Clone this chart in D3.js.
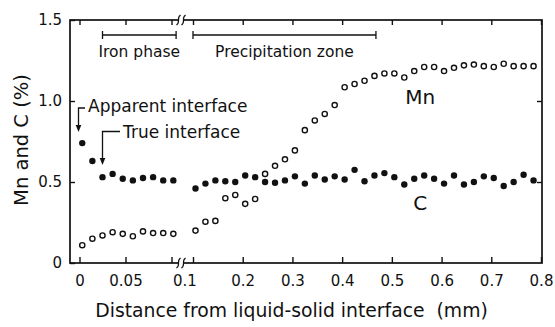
<!DOCTYPE html>
<html>
<head>
<meta charset="utf-8">
<script src="https://cdn.jsdelivr.net/npm/d3@7"></script>
<style>
  html, body { margin: 0; padding: 0; background: #fff; }
  svg { display: block; font-family: "DejaVu Sans", sans-serif; }
  .axis text { font-family: "DejaVu Sans", sans-serif; font-size: 15px; fill: #111; }
  .axis line { stroke: #111; stroke-width: 1.4; }
  .axis path { display: none; }
</style>
</head>
<body>
<script>
// Iron phase (left of the axis break): distance in mm
const ironX  = [0.003, 0.014, 0.025, 0.036, 0.047, 0.058, 0.069, 0.080, 0.091, 0.102];
const ironC  = [0.74, 0.63, 0.53, 0.55, 0.52, 0.51, 0.525, 0.53, 0.51, 0.51];
const ironMn = [0.11, 0.15, 0.17, 0.19, 0.18, 0.165, 0.195, 0.185, 0.185, 0.18];

// Beyond the break: precipitation zone and the region past it
const zoneX = [0.105, 0.125, 0.145, 0.165, 0.185, 0.205, 0.225, 0.245, 0.265, 0.285,
               0.305, 0.325, 0.345, 0.365, 0.385, 0.405, 0.425, 0.445, 0.465, 0.485,
               0.505, 0.525, 0.545, 0.565, 0.585, 0.605, 0.625, 0.645, 0.665, 0.685,
               0.705, 0.725, 0.745, 0.765, 0.785];
const zoneC = [0.46, 0.49, 0.51, 0.505, 0.50, 0.54, 0.53, 0.50, 0.495, 0.51,
               0.535, 0.49, 0.54, 0.515, 0.535, 0.515, 0.575, 0.505, 0.54, 0.555,
               0.53, 0.485, 0.52, 0.54, 0.52, 0.49, 0.54, 0.485, 0.50, 0.535,
               0.525, 0.475, 0.50, 0.545, 0.51];
const zoneMn = [0.20, 0.255, 0.26, 0.40, 0.42, 0.365, 0.395, 0.55, 0.60, 0.64,
                0.695, 0.82, 0.88, 0.92, 0.975, 1.085, 1.105, 1.125, 1.155, 1.17,
                1.17, 1.145, 1.185, 1.21, 1.21, 1.185, 1.205, 1.22, 1.225, 1.215,
                1.21, 1.23, 1.215, 1.215, 1.215];

// Axis ticks and their labels
const yTicks = [0, 0.5, 1.0, 1.5];
const yTickLabels = ["0", "0.5", "1.0", "1.5"];
const xTicksIron = [0, 0.05, 0.1];
const xTickLabelsIron = ["0", "0.05", ""];
const xTicksZone = [0.1, 0.2, 0.3, 0.4, 0.5, 0.6, 0.7, 0.8];
const xTickLabelsZone = ["", "0.2", "0.3", "0.4", "0.5", "0.6", "0.7", "0.8"];
const breakLabel = "0.1";

// Range brackets drawn above the data
const ironPhaseSpan = [0.025, 0.105];
const precipSpan = [0.1, 0.468];

const W = 555, H = 327;
const frame = { left: 70, right: 542, top: 20, bottom: 263 };

const y = d3.scaleLinear().domain([0, 1.5]).range([frame.bottom, frame.top]);
const xIron = d3.scaleLinear().domain([0, 0.1]).range([79.5, 171.5]);
const xZone = d3.scaleLinear().domain([0.1, 0.8]).range([193, 541]);
const breakX = 181;

const svg = d3.select("body").append("svg").attr("width", W).attr("height", H);

// Frame
svg.append("rect")
  .attr("x", frame.left).attr("y", frame.top)
  .attr("width", frame.right - frame.left).attr("height", frame.bottom - frame.top)
  .attr("fill", "none").attr("stroke", "#111").attr("stroke-width", 1.7);

// Axes (inward ticks on all four sides)
const fmt = (ticks, labels) => d => labels[ticks.indexOf(d)];

svg.append("g").attr("class", "axis")
  .attr("transform", `translate(${frame.left},0)`)
  .call(d3.axisLeft(y).tickValues(yTicks).tickFormat(fmt(yTicks, yTickLabels))
    .tickSizeInner(-5).tickSizeOuter(0).tickPadding(8));

svg.append("g").attr("class", "axis")
  .attr("transform", `translate(${frame.right},0)`)
  .call(d3.axisRight(y).tickValues([0.5, 1.0]).tickFormat("")
    .tickSizeInner(-5).tickSizeOuter(0));

[[xIron, xTicksIron, xTickLabelsIron], [xZone, xTicksZone, xTickLabelsZone]].forEach(([sc, tv, tl]) => {
  svg.append("g").attr("class", "axis")
    .attr("transform", `translate(0,${frame.bottom})`)
    .call(d3.axisBottom(sc).tickValues(tv).tickFormat(fmt(tv, tl))
      .tickSizeInner(-6).tickSizeOuter(0).tickPadding(12));
  svg.append("g").attr("class", "axis")
    .attr("transform", `translate(0,${frame.top})`)
    .call(d3.axisTop(sc).tickValues(tv).tickFormat("")
      .tickSizeInner(-5).tickSizeOuter(0));
});

svg.append("text")
  .attr("x", breakX + 4).attr("y", frame.bottom + 12).attr("dy", "0.71em")
  .attr("text-anchor", "middle").attr("font-size", 15).attr("fill", "#111")
  .text(breakLabel);

// Axis break squiggles on top and bottom edges
[frame.top, frame.bottom].forEach(yy => {
  svg.append("rect").attr("x", breakX - 2).attr("y", yy - 2).attr("width", 4).attr("height", 4).attr("fill", "#fff");
  [-2.5, 2.5].forEach(dx => {
    const cx = breakX + dx;
    svg.append("path")
      .attr("d", `M${cx - 2},${yy + 5} C${cx + 2.5},${yy + 2} ${cx - 2.5},${yy - 2} ${cx + 2},${yy - 5}`)
      .attr("fill", "none").attr("stroke", "#111").attr("stroke-width", 1.2);
  });
});

// Data points
const mnStyle = sel => sel.attr("r", 2.6).attr("fill", "#fff").attr("stroke", "#111").attr("stroke-width", 1.4);
const cStyle = sel => sel.attr("r", 3.2).attr("fill", "#111");

const pts = svg.append("g");
pts.selectAll(".mnI").data(ironX).join("circle").attr("class", "mnI")
  .attr("cx", d => xIron(d)).attr("cy", (d, i) => y(ironMn[i])).call(mnStyle);
pts.selectAll(".mnZ").data(zoneX).join("circle").attr("class", "mnZ")
  .attr("cx", d => xZone(d)).attr("cy", (d, i) => y(zoneMn[i])).call(mnStyle);
pts.selectAll(".cI").data(ironX).join("circle").attr("class", "cI")
  .attr("cx", d => xIron(d)).attr("cy", (d, i) => y(ironC[i])).call(cStyle);
pts.selectAll(".cZ").data(zoneX).join("circle").attr("class", "cZ")
  .attr("cx", d => xZone(d)).attr("cy", (d, i) => y(zoneC[i])).call(cStyle);

// Range brackets
function bracket(x0, x1, yy, label) {
  const g = svg.append("g").attr("stroke", "#111").attr("stroke-width", 1.3);
  g.append("line").attr("x1", x0).attr("x2", x1).attr("y1", yy).attr("y2", yy);
  g.append("line").attr("x1", x0).attr("x2", x0).attr("y1", yy - 4).attr("y2", yy + 4);
  g.append("line").attr("x1", x1).attr("x2", x1).attr("y1", yy - 4).attr("y2", yy + 4);
  svg.append("text").attr("x", (x0 + x1) / 2).attr("y", yy + 22)
    .attr("text-anchor", "middle").attr("font-size", 15.5).attr("fill", "#111").text(label);
}
bracket(xIron(ironPhaseSpan[0]), xIron(ironPhaseSpan[1]), 35, "Iron phase");
bracket(xZone(precipSpan[0]), xZone(precipSpan[1]), 35, "Precipitation zone");

// Interface arrows
function pointer(xp, yTop, yTip, textX, label, baseline) {
  const g = svg.append("g");
  g.append("path").attr("d", `M${textX - 3},${yTop} H${xp} V${yTip - 6}`)
    .attr("fill", "none").attr("stroke", "#111").attr("stroke-width", 1.3);
  g.append("path").attr("d", `M${xp - 2.8},${yTip - 7} L${xp + 2.8},${yTip - 7} L${xp},${yTip} Z`).attr("fill", "#111");
  svg.append("text").attr("x", textX).attr("y", baseline)
    .attr("font-size", 17).attr("fill", "#111").text(label);
}
pointer(xIron(0) - 1, 108, 132, 88, "Apparent interface", 112);
pointer(xIron(ironX[2]), 131.5, 165, 123, "True interface", 138);

// Series labels
svg.append("text").attr("x", xZone(0.527)).attr("y", y(0.981))
  .attr("font-size", 20).attr("fill", "#111").text("Mn");
svg.append("text").attr("x", xZone(0.543)).attr("y", y(0.327))
  .attr("font-size", 20).attr("fill", "#111").text("C");

// Axis titles
svg.append("text")
  .attr("transform", `translate(28,140) rotate(-90)`)
  .attr("text-anchor", "middle").attr("font-size", 19.5).attr("fill", "#111")
  .text("Mn and C (%)");
svg.append("text")
  .attr("x", 291.5).attr("y", 317).attr("text-anchor", "middle")
  .attr("font-size", 18.8).attr("fill", "#111").style("white-space", "pre")
  .text("Distance from liquid-solid interface  (mm)");
</script>
</body>
</html>
